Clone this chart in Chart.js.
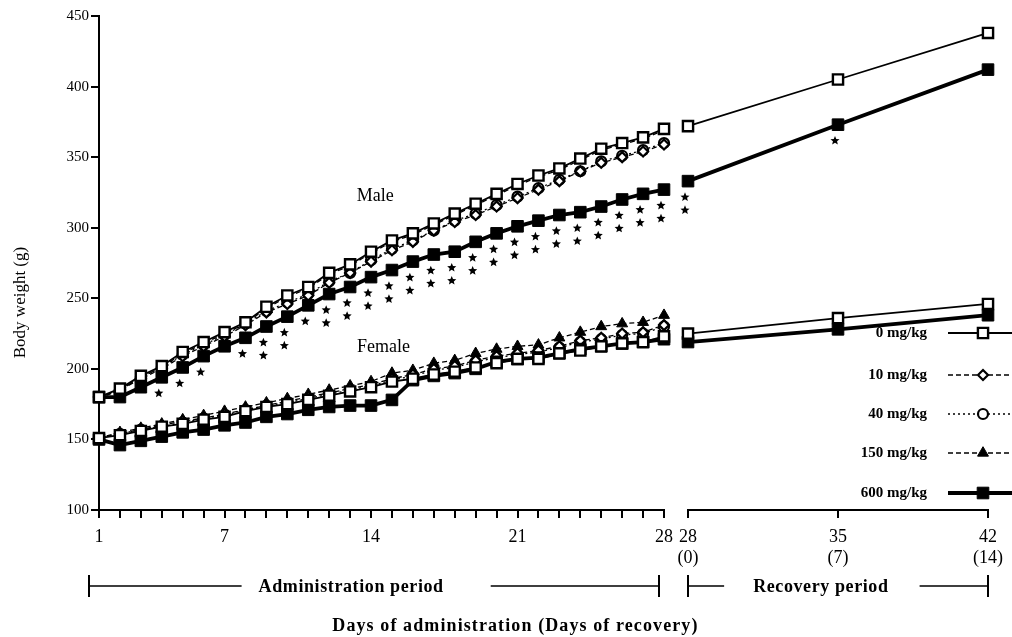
<!DOCTYPE html>
<html>
<head>
<meta charset="utf-8">
<title>Body weight</title>
<script src="https://cdn.jsdelivr.net/npm/chart.js@4.4.1/dist/chart.umd.min.js"></script>
<style>
  html, body { margin: 0; padding: 0; background: #fff; }
  #wrap { position: relative; width: 1012px; height: 637px; overflow: hidden; }
  #wrap canvas { position: absolute; left: 0; top: 0; }
</style>
</head>
<body>
<div id="wrap">
  <canvas id="adminChart" width="1012" height="637"></canvas>
  <canvas id="recoveryChart" width="1012" height="637"></canvas>
</div>
<script>
// ---- data -------------------------------------------------------------
const adminDays = [1,2,3,4,5,6,7,8,9,10,11,12,13,14,15,16,17,18,19,20,21,22,23,24,25,26,27,28];
const adminTickDays = [1, 7, 14, 21, 28];
const recoveryDays = [28, 35, 42];
const recoveryTickLabels = [['28', '(0)'], ['35', '(7)'], ['42', '(14)']];
const yTicks = [100, 150, 200, 250, 300, 350, 400, 450];
const doseLabels = ['0 mg/kg', '10 mg/kg', '40 mg/kg', '150 mg/kg', '600 mg/kg'];

// male body weight (g), administration period
const male0   = [180,186,195,202,212,219,226,233,244,252,258,268,274,283,291,296,303,310,317,324,331,337,342,349,356,360,364,370];
const male10  = [180,185,193,200,209,216,223,231,240,246,252,261,268,276,284,290,298,304,309,315,321,327,333,340,346,350,354,359];
const male40  = [180,185,194,201,210,217,224,232,241,247,253,262,268,277,285,291,298,305,310,316,322,328,334,340,347,351,355,360];
const male150 = [179,185,194,201,211,218,225,232,243,251,257,267,273,282,290,295,302,309,316,323,330,336,341,348,355,359,363,369];
const male600 = [180,180,187,194,201,209,216,222,230,237,245,253,258,265,270,276,281,283,290,296,301,305,309,311,315,320,324,327];

// female body weight (g), administration period
const female0   = [151,153,156,159,161,164,166,170,173,175,178,181,184,187,191,193,196,198,201,204,207,207,211,213,216,218,219,223];
const female10  = [151,154,157,160,163,165,168,171,174,177,180,183,186,189,193,196,200,202,206,209,211,213,216,220,222,225,226,231];
const female40  = [151,154,157,159,162,165,167,171,174,176,179,182,185,188,192,195,199,201,205,208,210,212,215,219,221,224,225,230];
const female150 = [151,155,158,161,164,167,170,173,176,179,182,185,188,191,197,199,204,206,211,214,216,217,222,226,230,232,233,238];
const female600 = [150,146,149,152,155,157,160,162,166,168,171,173,174,174,178,192,195,197,200,205,207,208,211,214,216,218,219,221];

// recovery period (days 28, 35, 42)
const maleRecovery0     = [372, 405, 438];
const maleRecovery600   = [333, 373, 412];
const femaleRecovery0   = [225, 236, 246];
const femaleRecovery600 = [219, 228, 238];

// number of significance marks under the 600 mg/kg male points
const maleSig600         = [0,0,0,1,1,1,0,1,2,2,1,2,2,2,2,2,2,2,2,2,2,2,2,2,2,2,2,2];
const maleRecoverySig600 = [2, 1, 0];

// ---- styles -----------------------------------------------------------
const FONT = "'Liberation Serif', 'Times New Roman', serif";
Chart.defaults.font.family = FONT;
Chart.defaults.color = '#000';

const doseStyle = [
  { lineWidth: 1.8, dash: [],     point: 'rect',    radius: 7.2, pointBorder: 2.4, fill: '#fff' },
  { lineWidth: 1.3, dash: [5, 3], point: 'rectRot', radius: 5,   pointBorder: 2.2, fill: '#fff' },
  { lineWidth: 1.3, dash: [2, 3], point: 'circle',  radius: 5,   pointBorder: 2.2, fill: '#fff' },
  { lineWidth: 1.3, dash: [5, 3], point: 'triangle',radius: 6.3, pointBorder: 1,   fill: '#000' },
  { lineWidth: 3.8, dash: [],     point: 'rect',    radius: 8.2, pointBorder: 1,   fill: '#000' }
];

function series(days, values, doseIndex, extra) {
  const s = doseStyle[doseIndex];
  return Object.assign({
    label: doseLabels[doseIndex],
    data: days.map((d, i) => ({ x: d, y: values[i] })),
    borderColor: '#000',
    borderWidth: s.lineWidth,
    borderDash: s.dash,
    pointStyle: s.point,
    pointRadius: s.radius,
    pointBorderWidth: s.pointBorder,
    pointBackgroundColor: s.fill,
    pointBorderColor: '#000',
    tension: 0,
    fill: false,
    clip: false
  }, extra || {});
}

// ---- drawing helpers ----------------------------------------------------
function drawStar(ctx, cx, cy, R) {
  const r = R * 0.45;
  ctx.beginPath();
  for (let k = 0; k < 10; k++) {
    const a = -Math.PI / 2 + k * Math.PI / 5;
    const rad = (k % 2) ? r : R;
    ctx.lineTo(cx + rad * Math.cos(a), cy + rad * Math.sin(a));
  }
  ctx.closePath();
  ctx.fill();
}

function drawMarker(ctx, style, x, y, r) {
  ctx.beginPath();
  if (style === 'rect') {
    const h = Math.SQRT1_2 * r;
    ctx.rect(x - h, y - h, 2 * h, 2 * h);
  } else if (style === 'rectRot') {
    ctx.moveTo(x - r, y); ctx.lineTo(x, y - r); ctx.lineTo(x + r, y); ctx.lineTo(x, y + r); ctx.closePath();
  } else if (style === 'triangle') {
    for (let k = 0; k < 3; k++) {
      const a = -Math.PI / 2 + k * 2 * Math.PI / 3;
      ctx.lineTo(x + r * Math.cos(a), y + r * Math.sin(a));
    }
    ctx.closePath();
  } else {
    ctx.arc(x, y, r, 0, Math.PI * 2);
  }
  ctx.fill();
  ctx.stroke();
}

function drawSigMarks(chart) {
  const ctx = chart.ctx;
  ctx.save();
  ctx.fillStyle = '#000';
  chart.data.datasets.forEach((ds, i) => {
    if (!ds.sigMarks) return;
    chart.getDatasetMeta(i).data.forEach((pt, j) => {
      for (let k = 0; k < ds.sigMarks[j]; k++) {
        drawStar(ctx, pt.x - 3, pt.y + 16 + k * 13, 4.8);
      }
    });
  });
  ctx.restore();
}

function drawBracket(ctx, x0, x1, y, text, textCenter, gapLeft, gapRight) {
  ctx.save();
  ctx.strokeStyle = '#000';
  ctx.fillStyle = '#000';
  ctx.font = 'bold 18px ' + FONT;
  ctx.letterSpacing = '0.6px';
  const w = ctx.measureText(text).width;
  ctx.lineWidth = 2;
  ctx.beginPath();
  ctx.moveTo(x0, y - 11); ctx.lineTo(x0, y + 11);
  ctx.moveTo(x1, y - 11); ctx.lineTo(x1, y + 11);
  ctx.stroke();
  ctx.lineWidth = 1.5;
  ctx.beginPath();
  ctx.moveTo(x0, y); ctx.lineTo(textCenter - w / 2 - gapLeft, y);
  ctx.moveTo(textCenter + w / 2 + gapRight, y); ctx.lineTo(x1, y);
  ctx.stroke();
  ctx.textAlign = 'center';
  ctx.textBaseline = 'middle';
  ctx.fillText(text, textCenter, y + 1);
  ctx.restore();
}

const axisCommon = {
  grid: { drawOnChartArea: false, drawTicks: true, tickLength: 8, color: '#000', lineWidth: 2 },
  border: { display: true, color: '#000', width: 2 }
};

// ---- administration period chart ---------------------------------------
const adminDecor = {
  id: 'adminDecor',
  afterDatasetsDraw(chart) { drawSigMarks(chart); },
  afterDraw(chart) {
    const ctx = chart.ctx, xs = chart.scales.x, ys = chart.scales.y;
    ctx.save();
    ctx.fillStyle = '#000';
    ctx.textAlign = 'center';
    ctx.textBaseline = 'middle';
    ctx.font = '18px ' + FONT;
    ctx.fillText('Male', xs.getPixelForValue(14.2), ys.getPixelForValue(322));
    ctx.fillText('Female', xs.getPixelForValue(14.6), ys.getPixelForValue(215));

    // y axis title
    ctx.save();
    ctx.translate(21, ys.getPixelForValue(247));
    ctx.rotate(-Math.PI / 2);
    ctx.font = '17px ' + FONT;
    ctx.fillText('Body weight (g)', 0, 0);
    ctx.restore();

    // x axis title
    ctx.font = 'bold 18px ' + FONT;
    ctx.letterSpacing = '1.1px';
    ctx.fillText('Days of administration (Days of recovery)', xs.getPixelForValue(20.9), 626);
    ctx.restore();

    drawBracket(ctx, xs.getPixelForValue(1) - 10, xs.getPixelForValue(28) - 5, 586,
      'Administration period', xs.getPixelForValue(13.05), 17, 47);
  }
};

new Chart(document.getElementById('adminChart'), {
  type: 'line',
  data: {
    datasets: [
      series(adminDays, male0, 0),
      series(adminDays, female0, 0),
      series(adminDays, male600, 4, { sigMarks: maleSig600 }),
      series(adminDays, female600, 4),
      series(adminDays, male10, 1),
      series(adminDays, female10, 1),
      series(adminDays, male40, 2),
      series(adminDays, female40, 2),
      series(adminDays, male150, 3),
      series(adminDays, female150, 3)
    ]
  },
  options: {
    responsive: false,
    devicePixelRatio: 1,
    animation: false,
    events: [],
    layout: { padding: { left: 0, top: 16, right: 348, bottom: 0 } },
    plugins: { legend: { display: false }, tooltip: { enabled: false } },
    scales: {
      x: Object.assign({}, axisCommon, {
        type: 'linear', min: 1, max: 28,
        afterBuildTicks: s => { s.ticks = adminDays.map(v => ({ value: v })); },
        afterFit: s => { s.height = 127; },
        ticks: {
          autoSkip: false, maxRotation: 0, padding: 8, color: '#000',
          font: { size: 18 },
          callback: v => adminTickDays.includes(v) ? String(v) : ''
        }
      }),
      y: Object.assign({}, axisCommon, {
        type: 'linear', min: 100, max: 450,
        afterBuildTicks: s => { s.ticks = yTicks.map(v => ({ value: v })); },
        afterFit: s => { s.width = 99; },
        ticks: { padding: 2, color: '#000', font: { size: 15 } }
      })
    }
  },
  plugins: [adminDecor]
});

// ---- recovery period chart ---------------------------------------------
const recoveryDecor = {
  id: 'recoveryDecor',
  afterDatasetsDraw(chart) { drawSigMarks(chart); },
  afterDraw(chart) {
    const ctx = chart.ctx, xs = chart.scales.x;
    drawBracket(ctx, xs.getPixelForValue(28), xs.getPixelForValue(42), 586,
      'Recovery period', xs.getPixelForValue(34.2), 29, 31);

    // legend
    const rowY = [333, 375, 414, 453, 493];
    ctx.save();
    ctx.fillStyle = '#000';
    ctx.strokeStyle = '#000';
    ctx.font = 'bold 15px ' + FONT;
    ctx.textAlign = 'right';
    ctx.textBaseline = 'middle';
    doseLabels.forEach((lab, i) => {
      const s = doseStyle[i];
      const y = rowY[i];
      ctx.fillStyle = '#000';
      ctx.fillText(lab, 927, y);
      ctx.lineWidth = s.lineWidth;
      ctx.setLineDash(s.dash);
      ctx.beginPath();
      ctx.moveTo(948, y); ctx.lineTo(1012, y);
      ctx.stroke();
      ctx.setLineDash([]);
      ctx.lineWidth = s.pointBorder;
      ctx.fillStyle = s.fill;
      drawMarker(ctx, s.point, 983, y, s.radius);
    });
    ctx.restore();
  }
};

new Chart(document.getElementById('recoveryChart'), {
  type: 'line',
  data: {
    datasets: [
      series(recoveryDays, maleRecovery0, 0),
      series(recoveryDays, femaleRecovery0, 0),
      series(recoveryDays, maleRecovery600, 4, { sigMarks: maleRecoverySig600 }),
      series(recoveryDays, femaleRecovery600, 4)
    ]
  },
  options: {
    responsive: false,
    devicePixelRatio: 1,
    animation: false,
    events: [],
    layout: { padding: { left: 688, top: 16, right: 24, bottom: 0 } },
    plugins: { legend: { display: false }, tooltip: { enabled: false } },
    scales: {
      x: Object.assign({}, axisCommon, {
        type: 'linear', min: 28, max: 42,
        afterBuildTicks: s => { s.ticks = recoveryDays.map(v => ({ value: v })); },
        afterFit: s => { s.height = 127; },
        ticks: {
          autoSkip: false, maxRotation: 0, padding: 8, color: '#000',
          font: { size: 18 },
          callback: (v, i) => recoveryTickLabels[i]
        }
      }),
      y: { display: false, type: 'linear', min: 100, max: 450 }
    }
  },
  plugins: [recoveryDecor]
});
</script>
</body>
</html>
